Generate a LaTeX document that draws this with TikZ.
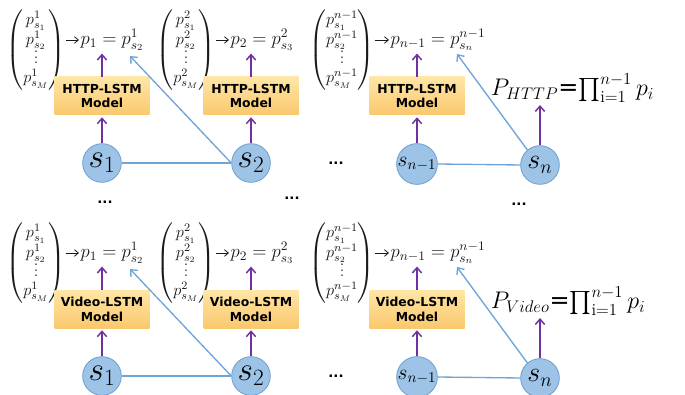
\RequirePackage{fix-cm}
\documentclass[tikz,border=0pt]{standalone}
\usepackage{amsmath}
\usepackage{fontspec}
\newfontfamily\boxfont{DejaVu Sans}
\usetikzlibrary{arrows.meta}
\definecolor{cfill}{HTML}{9DC3E6}
\definecolor{cborder}{HTML}{6E9FCF}
\definecolor{lblue}{HTML}{6FA4D8}
\definecolor{purp}{HTML}{7030A0}
\definecolor{boxtop}{HTML}{FFE6A6}
\definecolor{boxbot}{HTML}{FAC86E}
\definecolor{txt}{HTML}{1A1A1A}
\tikzset{
  vec/.style={inner sep=0pt, font=\fontsize{13.5}{14.5}\selectfont, text=txt},
  eq/.style={inner sep=1pt, anchor=west, font=\fontsize{14}{15}\selectfont, text=txt},
  model/.style={top color=boxtop, bottom color=boxbot, draw=none, minimum width=71.25pt, minimum height=28.5pt,
     inner sep=0pt, align=center, font=\boxfont\bfseries\fontsize{9.3}{11.2}\selectfont},
  state/.style={circle, fill=cfill, draw=cborder, line width=0.6pt, minimum size=29pt, inner sep=0pt},
  big/.style={font=\fontsize{25}{25}\selectfont},
  mid/.style={font=\fontsize{21}{21}\selectfont},
  small/.style={font=\fontsize{16}{16}\selectfont},
  dotsnode/.style={inner sep=0pt, font=\boxfont\bfseries\fontsize{10}{10}\selectfont},
  prodnode/.style={inner sep=2pt, anchor=west, font=\fontsize{18}{18}\selectfont},
  blk/.style={draw=txt, line width=0.6pt, -{Straight Barb[length=3pt,width=5pt]}},
  parrow/.style={draw=purp, line width=1.1pt, -{Straight Barb[length=4pt,width=7pt]}},
  bline/.style={draw=lblue, line width=1pt},
  barrow/.style={draw=lblue, line width=1pt, -{Straight Barb[length=4pt,width=7pt]}},
}
\renewcommand{\arraystretch}{1}
\newcommand{\en}[1]{\smash{\hbox{\fontsize{12.3}{13}\selectfont$#1$}}}
\newcommand{\onerow}[4]{%
\begin{scope}[yshift=#2]
  % column 1
  \node[vec] (#1v1) at (36,50) {$\begin{pmatrix}\en{p^1_{s_1}}\\ \en{p^1_{s_2}}\\ \en{\vdots}\\ \en{p^1_{s_M}}\end{pmatrix}$};
  \node[eq] (#1p1) at (79,40) {$p_1=p^1_{s_2}$};
  \node[model] (#1m1) at (102,96) {#3-LSTM\\Model};
  \node[state,big] (#1s1) at (102,163) {$s_1$};
  % column 2
  \node[vec] (#1v2) at (186,50) {$\begin{pmatrix}\en{p^2_{s_1}}\\ \en{p^2_{s_2}}\\ \en{\vdots}\\ \en{p^2_{s_M}}\end{pmatrix}$};
  \node[eq] (#1p2) at (229,40) {$p_2=p^2_{s_3}$};
  \node[model] (#1m2) at (251,96) {#3-LSTM\\Model};
  \node[state,big] (#1s2) at (251,163) {$s_2$};
  % column 3
  \node[vec] (#1v3) at (342,50) {$\begin{pmatrix}\en{p^{n-1}_{s_1}}\\ \en{p^{n-1}_{s_2}}\\ \en{\vdots}\\ \en{p^{n-1}_{s_M}}\end{pmatrix}$};
  \node[eq] (#1p3) at (389,40) {$p_{n-1}=p^{n-1}_{s_n}$};
  \node[model] (#1m3) at (417,96) {#3-LSTM\\Model};
  \node[state,small] (#1sm) at (417,164) {$s_{n-1}$};
  \node[state,mid] (#1sn) at (540,165) {$s_n$};
  \node[dotsnode] (#1dd) at (336,163) {...};
  \node[prodnode] (#1P) at (488,88) {$P_{#4}${\boxfont =}$\prod_{\mathrm{i=1}}^{n-1} p_i$};
  \coordinate (#1t1) at (130,56);
  \coordinate (#1t3) at (457,54);
  % connectors
  \draw[blk] (#1v1.east |- #1p1.west) -- (#1p1.west);
  \draw[blk] (#1v2.east |- #1p2.west) -- (#1p2.west);
  \draw[blk] (#1v3.east |- #1p3.west) -- (#1p3.west);
  \draw[parrow] (#1m1.north) -- ([yshift=-1pt]#1m1.north |- #1p1.south);
  \draw[parrow] (#1m2.north) -- ([yshift=-1pt]#1m2.north |- #1p2.south);
  \draw[parrow] (#1m3.north) -- ([yshift=-1pt]#1m3.north |- #1p3.south);
  \draw[parrow] (#1s1.north) -- ([yshift=-1.5pt]#1m1.south);
  \draw[parrow] (#1s2.north) -- ([yshift=-1.5pt]#1m2.south);
  \draw[parrow] (#1sm.north) -- ([yshift=-1.5pt]#1m3.south);
  \draw[parrow] (#1sn.north) -- (#1sn.north |- #1P.south);
  \draw[bline] (#1s1.east) -- (#1s2.west);
  \draw[barrow] (#1s2.west) -- (#1t1);
  \draw[bline] (#1sm.east) -- (#1sn.west);
  \draw[barrow] (#1sn.130) -- (#1t3);
\end{scope}}
\begin{document}
\begin{tikzpicture}[x=0.75pt,y=-0.75pt]
  \useasboundingbox (0,0) rectangle (685,395);
  \onerow{a}{0pt}{HTTP}{HTTP}
  \onerow{b}{-159.75pt}{Video}{Video}
  \node[dotsnode] (m1) at (105,202) {...};
  \node[dotsnode] (m2) at (292,198) {...};
  \node[dotsnode] (m3) at (519,204) {...};
\end{tikzpicture}
\end{document}
